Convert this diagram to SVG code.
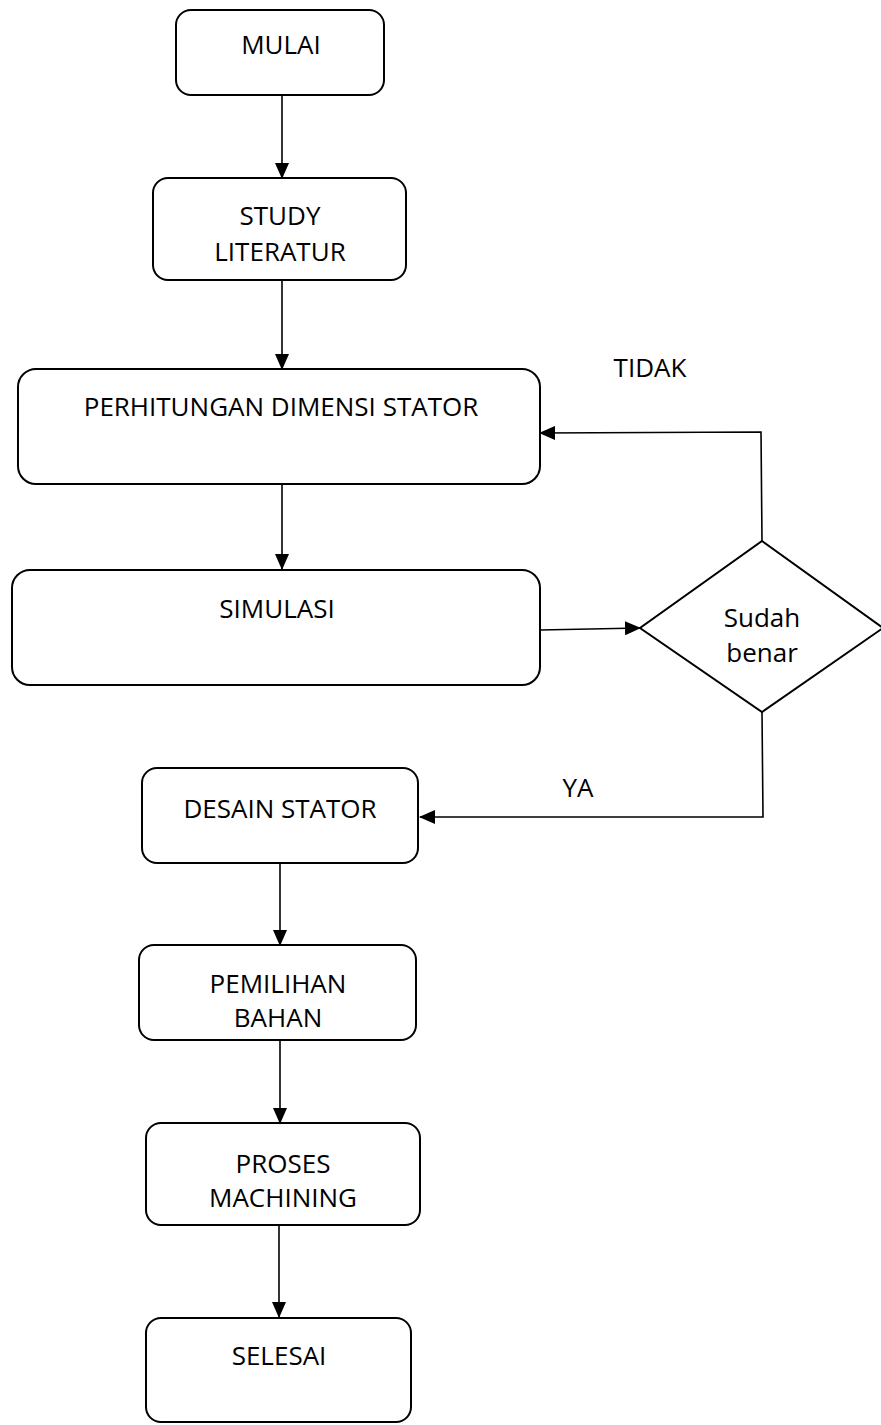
<svg xmlns="http://www.w3.org/2000/svg" width="881" height="1425" viewBox="0 0 881 1425">
<defs>
<style>
.box{fill:#fff;stroke:#000;stroke-width:2}
.t{font-family:"Open Sans","Liberation Sans",sans-serif;font-size:26px;fill:#000;text-anchor:middle}
.c{fill:none;stroke:#000;stroke-width:1.6}
</style>
<marker id="ah" markerWidth="16" markerHeight="14" refX="15" refY="7" orient="auto" markerUnits="userSpaceOnUse">
<path d="M0,0 L16,7 L0,14 Z" fill="#000"/>
</marker>
</defs>
<rect width="881" height="1425" fill="#fff"/>
<g id="connectors">
<line class="c" x1="282" y1="95" x2="282" y2="178" marker-end="url(#ah)"/>
<line class="c" x1="282" y1="280" x2="282" y2="369" marker-end="url(#ah)"/>
<line class="c" x1="282" y1="484" x2="282" y2="569" marker-end="url(#ah)"/>
<line class="c" x1="540" y1="630" x2="640" y2="628" marker-end="url(#ah)"/>
<polyline class="c" points="762,541 761,432 540,433" marker-end="url(#ah)"/>
<polyline class="c" points="762,712 763,817 420,817" marker-end="url(#ah)"/>
<line class="c" x1="280" y1="863" x2="280" y2="945" marker-end="url(#ah)"/>
<line class="c" x1="280" y1="1040" x2="280" y2="1123" marker-end="url(#ah)"/>
<line class="c" x1="279" y1="1225" x2="279" y2="1317" marker-end="url(#ah)"/>
<text class="t" x="650" y="377">TIDAK</text>
<text class="t" x="578" y="797">YA</text>
</g>
<g id="mulai">
<rect class="box" x="176" y="10" width="208" height="85" rx="15"/>
<text class="t" x="281" y="54">MULAI</text>
</g>
<g id="study">
<rect class="box" x="153" y="178" width="253" height="102" rx="15"/>
<text class="t" x="280" y="225">STUDY</text>
<text class="t" x="280" y="261">LITERATUR</text>
</g>
<g id="perhitungan">
<rect class="box" x="18" y="369" width="522" height="115" rx="18"/>
<text class="t" x="281" y="416">PERHITUNGAN DIMENSI STATOR</text>
</g>
<g id="simulasi">
<rect class="box" x="12" y="570" width="528" height="115" rx="18"/>
<text class="t" x="277" y="618">SIMULASI</text>
</g>
<g id="decision">
<polygon class="box" points="762,541 883,628 762,712 640,628"/>
<text class="t" x="762" y="627">Sudah</text>
<text class="t" x="762" y="662">benar</text>
</g>
<g id="desain">
<rect class="box" x="142" y="768" width="276" height="95" rx="15"/>
<text class="t" x="280" y="818">DESAIN STATOR</text>
</g>
<g id="pemilihan">
<rect class="box" x="139" y="945" width="277" height="95" rx="15"/>
<text class="t" x="278" y="993">PEMILIHAN</text>
<text class="t" x="278" y="1027">BAHAN</text>
</g>
<g id="proses">
<rect class="box" x="146" y="1123" width="274" height="102" rx="15"/>
<text class="t" x="283" y="1173">PROSES</text>
<text class="t" x="283" y="1207">MACHINING</text>
</g>
<g id="selesai">
<rect class="box" x="146" y="1318" width="265" height="104" rx="15"/>
<text class="t" x="279" y="1365">SELESAI</text>
</g>
</svg>
